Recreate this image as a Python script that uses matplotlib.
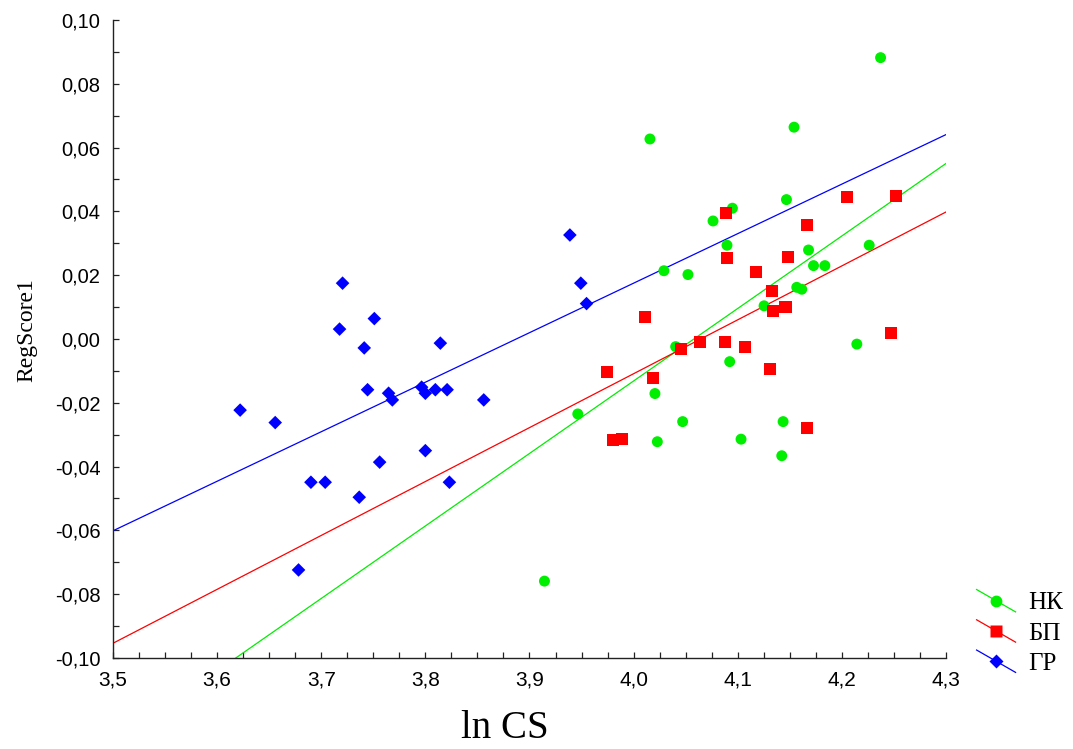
import numpy as np
import matplotlib
matplotlib.use("Agg")
import matplotlib.pyplot as plt
from matplotlib.lines import Line2D
from matplotlib.legend_handler import HandlerBase
from matplotlib.ticker import FuncFormatter, MultipleLocator

# ---- data -------------------------------------------------------------
# НК group (green circles)
nk_x = [4.2372, 4.1541, 4.0157, 4.1468, 4.0949, 4.0763, 4.0897, 4.0291, 4.0522,
        4.1680, 4.1728, 4.1837, 4.2263, 4.1567, 4.1615, 4.1253, 4.0404, 4.2144,
        4.0923, 4.0205, 3.9464, 4.0471, 4.1436, 4.0228, 4.1032, 4.1423, 3.9144]
nk_y = [0.0882, 0.0664, 0.0627, 0.0437, 0.0410, 0.0370, 0.0294, 0.0214, 0.0202,
        0.0279, 0.0230, 0.0230, 0.0294, 0.0162, 0.0156, 0.0104, -0.0024, -0.0016,
        -0.0071, -0.0171, -0.0235, -0.0259, -0.0259, -0.0322, -0.0314, -0.0366, -0.0759]

# БП group (red squares)
bp_x = [4.2045, 4.2519, 4.0885, 4.1666, 4.0894, 4.1484, 4.1180, 4.1327, 4.1339,
        4.1459, 4.0109, 4.2471, 4.0641, 4.0875, 4.0459, 4.1070, 3.9740, 4.0183,
        4.1314, 3.9801, 3.9891, 4.1666]
bp_y = [0.0445, 0.0449, 0.0394, 0.0358, 0.0255, 0.0258, 0.0211, 0.0150, 0.0088,
        0.0099, 0.0068, 0.0020, -0.0008, -0.0008, -0.0031, -0.0024, -0.0103, -0.0122,
        -0.0095, -0.0318, -0.0313, -0.0278]

# ГР group (blue diamonds)
gr_x = [3.6221, 3.6558, 3.7205, 3.7176, 3.7510, 3.7413, 3.8144, 3.7445, 3.7647,
        3.7683, 3.7964, 3.8000, 3.8096, 3.8209, 3.8561, 3.8000, 3.7561, 3.6901,
        3.7038, 3.7365, 3.8231, 3.6782, 3.9388, 3.9493, 3.9548]
gr_y = [-0.0223, -0.0262, 0.0175, 0.0031, 0.0064, -0.0028, -0.0013, -0.0159, -0.0170,
        -0.0191, -0.0151, -0.0170, -0.0159, -0.0159, -0.0191, -0.0350, -0.0386, -0.0449,
        -0.0449, -0.0496, -0.0449, -0.0724, 0.0326, 0.0175, 0.0111]

group_labels = ["НК", "БП", "ГР"]

# ---- figure -----------------------------------------------------------
fig = plt.figure(figsize=(10.73, 7.49), dpi=100)
ax = fig.add_axes([0.1053, 0.1215, 0.7763, 0.8518])

GREEN = "#00ee00"
RED = "#ff0000"
BLUE = "#0000ff"

groups = [
    (nk_x, nk_y, GREEN, "o", 62),
    (bp_x, bp_y, RED, "s", 75),
    (gr_x, gr_y, BLUE, "D", 48),
]

xlo, xhi = 3.5, 4.3
xx = np.linspace(xlo, xhi, 200)

# least-squares regression line for each group
for gx, gy, col, mk, sz in groups:
    k, b = np.polyfit(gx, gy, 1)
    ax.plot(xx, k * xx + b, color=col, lw=0.9, zorder=2)

# points: ГР first, then НК, then БП on top
for idx in (2, 0, 1):
    gx, gy, col, mk, sz = groups[idx]
    ax.scatter(gx, gy, s=sz, marker=mk, color=col, edgecolors="none", zorder=3)

ax.set_xlim(xlo, xhi)
ax.set_ylim(-0.10, 0.10)

ax.spines["top"].set_visible(False)
ax.spines["right"].set_visible(False)
for sp in ("left", "bottom"):
    ax.spines[sp].set_linewidth(1.0)
    ax.spines[sp].set_color("#222222")

ax.xaxis.set_major_locator(MultipleLocator(0.1))
ax.xaxis.set_minor_locator(MultipleLocator(0.025))
ax.yaxis.set_major_locator(MultipleLocator(0.02))
ax.yaxis.set_minor_locator(MultipleLocator(0.01))

ax.xaxis.set_major_formatter(FuncFormatter(lambda v, p: f"{v:.1f}".replace(".", ",")))
def yfmt(v, p):
    if abs(v) < 1e-9:
        v = 0.0
    return f"{v:.2f}".replace(".", ",")
ax.yaxis.set_major_formatter(FuncFormatter(yfmt))

ax.tick_params(which="both", direction="in", length=4.5, width=0.9, color="#222222",
               top=False, right=False)
ax.tick_params(axis="y", which="major", pad=9, labelsize=14.5)
ax.tick_params(axis="x", which="major", pad=9, labelsize=15)
for lab in ax.get_xticklabels() + ax.get_yticklabels():
    lab.set_fontfamily("Liberation Sans")

ax.set_xlabel("ln CS", fontfamily="Liberation Serif", fontsize=28)
ax.xaxis.set_label_coords(0.47, -0.082)
ax.set_ylabel("RegScore1", fontfamily="Liberation Serif", fontsize=17)
ax.yaxis.set_label_coords(-0.091, 0.514)


class DiagonalHandler(HandlerBase):
    """Legend key drawn as a falling diagonal line with the marker in its middle."""

    def create_artists(self, legend, orig_handle, xdescent, ydescent, width, height,
                       fontsize, trans):
        x0, x1 = -xdescent, -xdescent + width
        y0, y1 = -ydescent + height, -ydescent
        line = Line2D([x0, x1], [y0, y1], color=orig_handle.get_color(), lw=0.9)
        mark = Line2D([(x0 + x1) / 2], [(y0 + y1) / 2], linestyle="none",
                      marker=orig_handle.get_marker(),
                      markersize=orig_handle.get_markersize(),
                      markerfacecolor=orig_handle.get_color(),
                      markeredgecolor="none")
        line.set_transform(trans)
        mark.set_transform(trans)
        return [line, mark]


handles = [
    Line2D([], [], color=GREEN, marker="o", markersize=8.5),
    Line2D([], [], color=RED, marker="s", markersize=8.5),
    Line2D([], [], color=BLUE, marker="D", markersize=7),
]
fig.legend(handles, group_labels, loc="upper left", bbox_to_anchor=(0.8985, 0.2296),
           frameon=False, borderpad=0, handlelength=1.56, handleheight=1.0,
           handletextpad=0.5, labelspacing=0.22,
           prop={"family": "Liberation Serif", "size": 18},
           handler_map={Line2D: DiagonalHandler()})

fig.savefig("out.png", dpi=100)
